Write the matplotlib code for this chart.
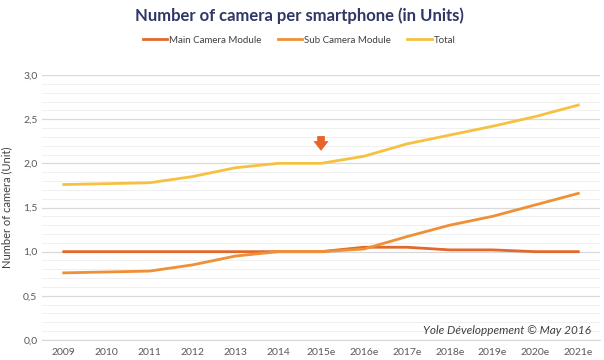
import matplotlib
matplotlib.use("Agg")
import matplotlib.pyplot as plt
import numpy as np

years = ["2009", "2010", "2011", "2012", "2013", "2014", "2015e", "2016e",
         "2017e", "2018e", "2019e", "2020e", "2021e"]
main_cam = [1.00, 1.00, 1.00, 1.00, 1.00, 1.00, 1.00, 1.05, 1.05, 1.02, 1.02, 1.00, 1.00]
sub_cam = [0.76, 0.77, 0.78, 0.85, 0.95, 1.00, 1.00, 1.03, 1.17, 1.30, 1.40, 1.53, 1.66]
total = [1.76, 1.77, 1.78, 1.85, 1.95, 2.00, 2.00, 2.08, 2.22, 2.32, 2.42, 2.53, 2.66]

plt.rcParams['font.family'] = ['Lato', 'DejaVu Sans']

fig = plt.figure(figsize=(6.04, 3.6), dpi=100)
ax = fig.add_axes([0.07, 0.0556, 0.923, 0.736])

x = np.arange(len(years))
c_main = "#E2692B"
c_sub = "#EE9035"
c_tot = "#F6C142"
ax.plot(x, main_cam, color=c_main, lw=2, label="Main Camera Module", zorder=3)
ax.plot(x, sub_cam, color=c_sub, lw=2, label="Sub Camera Module", zorder=3)
ax.plot(x, total, color=c_tot, lw=2, label="Total", zorder=3)

ax.set_xlim(-0.5, 12.5)
ax.set_ylim(0, 3.0)
ax.set_yticks(np.arange(0, 3.01, 0.5))
ax.set_yticklabels([f"{v:.1f}".replace(".", ",") for v in np.arange(0, 3.01, 0.5)])
ax.set_yticks(np.arange(0, 3.01, 0.1), minor=True)
ax.set_xticks(x)
ax.set_xticklabels(years)
ax.grid(axis='y', which='major', color="#D9D9D9", lw=0.9)
ax.grid(axis='y', which='minor', color="#F0F0F0", lw=0.7)
ax.set_axisbelow(True)
for s in ["top", "right", "left"]:
    ax.spines[s].set_visible(False)
ax.spines["bottom"].set_color("#D9D9D9")
ax.tick_params(axis='both', which='both', length=0, labelsize=7.5, colors="#595959")
ax.tick_params(axis='x', pad=6)
ax.set_ylabel("Number of camera (Unit)", fontsize=8, color="#404040", labelpad=8)

# arrow marking 2015e
ax.annotate("", xy=(6, 2.11), xytext=(6, 2.34),
            arrowprops=dict(arrowstyle="simple,head_width=1.1,head_length=0.7,tail_width=0.55",
                            color="#E8622A", lw=0))

ax.text(0.985, 0.015, "Yole Développement © May 2016", transform=ax.transAxes,
        ha="right", va="bottom", fontsize=8.5, style="italic", color="#404040")

fig.text(0.495, 0.955, "Number of camera per smartphone (in Units)", ha="center", va="center",
         fontsize=12, fontweight="bold", color="#2E3766")
fig.legend(loc="center", bbox_to_anchor=(0.495, 0.888), ncol=3, frameon=False, fontsize=7,
           handlelength=2.5, columnspacing=1.7, handletextpad=0.2, labelcolor="#404040")

fig.savefig("out.png", dpi=100)
